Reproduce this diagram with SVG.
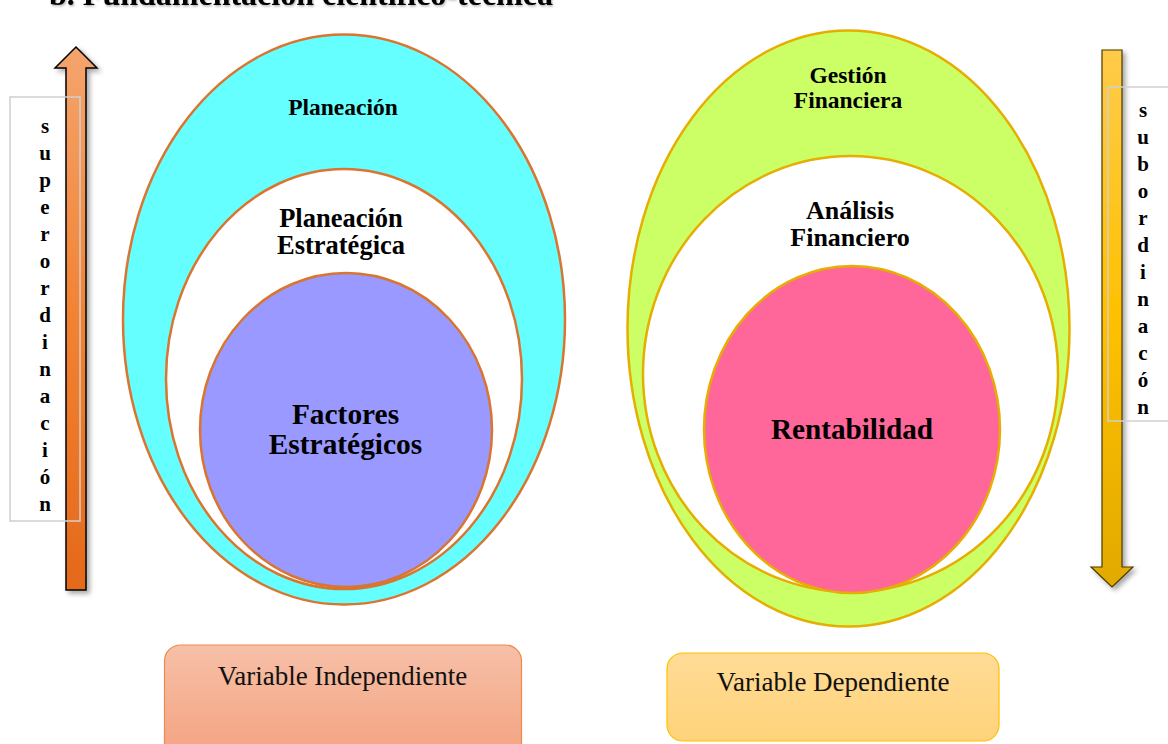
<svg xmlns="http://www.w3.org/2000/svg" width="1168" height="744" viewBox="0 0 1168 744">
  <style>
    .lbl { font-family: "Liberation Serif", "Times New Roman", serif; font-weight: bold; fill: #000; text-anchor: middle; }
    .var { font-family: "Liberation Serif", "Times New Roman", serif; font-size: 27px; fill: #111; text-anchor: middle; }
    .vert { font-family: "Liberation Serif", "Times New Roman", serif; font-weight: bold; font-size: 21px; fill: #000; text-anchor: middle; }
    .ring-l { stroke: #D9752F; stroke-width: 2.5; }
    .ring-r { stroke: #E6AE00; stroke-width: 2.5; }
    .tagbox { fill: none; stroke: #CFCFCF; stroke-width: 1.5; }
  </style>
  <defs>
    <linearGradient id="gUp" x1="0" y1="0" x2="0" y2="1">
      <stop offset="0" stop-color="#F5A46E"/>
      <stop offset="0.5" stop-color="#F28232"/>
      <stop offset="1" stop-color="#E4691A"/>
    </linearGradient>
    <linearGradient id="gDown" x1="0" y1="0" x2="0" y2="1">
      <stop offset="0" stop-color="#FFCB4A"/>
      <stop offset="0.5" stop-color="#FFC000"/>
      <stop offset="1" stop-color="#E2AA00"/>
    </linearGradient>
    <linearGradient id="gIndep" x1="0" y1="0" x2="0" y2="1">
      <stop offset="0" stop-color="#F6C0A8"/>
      <stop offset="1" stop-color="#F4A27F"/>
    </linearGradient>
    <linearGradient id="gDep" x1="0" y1="0" x2="0" y2="1">
      <stop offset="0" stop-color="#FFDB96"/>
      <stop offset="1" stop-color="#FFD37A"/>
    </linearGradient>
    <filter id="shadow" x="-50%" y="-10%" width="200%" height="120%">
      <feDropShadow dx="3" dy="3" stdDeviation="2.5" flood-color="#000" flood-opacity="0.35"/>
    </filter>
    <filter id="tshadow" x="-5%" y="-50%" width="110%" height="200%">
      <feDropShadow dx="1" dy="1.5" stdDeviation="1" flood-color="#000" flood-opacity="0.3"/>
    </filter>
  </defs>

  <rect width="1168" height="744" fill="#fff"/>

  <!-- heading, partly above the page edge -->
  <text class="lbl" x="301" y="5" font-size="32" filter="url(#tshadow)">b. Fundamentación científico-técnica</text>

  <!-- left nest: independent variable -->
  <g id="planeacion">
    <ellipse class="ring-l" cx="344" cy="319.5" rx="221" ry="285" fill="#66FFFF"/>
    <text class="lbl" x="343" y="115" font-size="23.5">Planeación</text>
  </g>
  <g id="planeacion-estrategica">
    <ellipse class="ring-l" cx="344" cy="379" rx="178" ry="210" fill="#FFFFFF"/>
    <text class="lbl" font-size="26.5"><tspan x="341" y="227">Planeación</tspan><tspan x="341" y="254">Estratégica</tspan></text>
  </g>
  <g id="factores-estrategicos">
    <ellipse class="ring-l" cx="346" cy="430" rx="146" ry="157" fill="#9999FF"/>
    <text class="lbl" font-size="29.4"><tspan x="345.5" y="424">Factores</tspan><tspan x="345.5" y="454">Estratégicos</tspan></text>
  </g>

  <!-- right nest: dependent variable -->
  <g id="gestion-financiera">
    <ellipse class="ring-r" cx="848.5" cy="328.5" rx="221" ry="298" fill="#CCFF66"/>
    <text class="lbl" font-size="23.5"><tspan x="848" y="83">Gestión</tspan><tspan x="848" y="108">Financiera</tspan></text>
  </g>
  <g id="analisis-financiero">
    <ellipse class="ring-r" cx="850.5" cy="374" rx="207.5" ry="218" fill="#FFFFFF"/>
    <text class="lbl" font-size="26"><tspan x="850" y="219">Análisis</tspan><tspan x="850" y="246">Financiero</tspan></text>
  </g>
  <g id="rentabilidad">
    <ellipse class="ring-r" cx="852" cy="429.5" rx="148" ry="163.5" fill="#FF6699"/>
    <text class="lbl" x="852" y="439" font-size="29.2">Rentabilidad</text>
  </g>

  <!-- direction arrows -->
  <g id="connectors">
    <path id="arrow-up" d="M66,590 L66,68 L55,68 L76,47 L97,68 L86,68 L86,590 Z" fill="url(#gUp)" stroke="#000" stroke-width="1.5" stroke-linejoin="miter" filter="url(#shadow)"/>
    <path id="arrow-down" d="M1102,50 L1122,50 L1122,567 L1133,567 L1112,587 L1091,567 L1102,567 Z" fill="url(#gDown)" stroke="#4A3A00" stroke-width="1.2" stroke-linejoin="miter" filter="url(#shadow)"/>
  </g>

  <g id="superordinacion">
    <rect class="tagbox" x="10" y="97" width="70" height="424"/>
    <text class="vert">
      <tspan x="45" y="133">s</tspan><tspan x="45" y="160">u</tspan><tspan x="45" y="187">p</tspan><tspan x="45" y="214">e</tspan><tspan x="45" y="241">r</tspan><tspan x="45" y="268">o</tspan><tspan x="45" y="295">r</tspan><tspan x="45" y="322">d</tspan><tspan x="45" y="349">i</tspan><tspan x="45" y="376">n</tspan><tspan x="45" y="403">a</tspan><tspan x="45" y="430">c</tspan><tspan x="45" y="457">i</tspan><tspan x="45" y="484">ó</tspan><tspan x="45" y="511">n</tspan>
    </text>
  </g>

  <g id="subordinacion">
    <rect class="tagbox" x="1108" y="87" width="70" height="334"/>
    <text class="vert">
      <tspan x="1143" y="117">s</tspan><tspan x="1143" y="144">u</tspan><tspan x="1143" y="171">b</tspan><tspan x="1143" y="198">o</tspan><tspan x="1143" y="225">r</tspan><tspan x="1143" y="252">d</tspan><tspan x="1143" y="279">i</tspan><tspan x="1143" y="306">n</tspan><tspan x="1143" y="333">a</tspan><tspan x="1143" y="360">c</tspan><tspan x="1143" y="387">ó</tspan><tspan x="1143" y="414">n</tspan>
    </text>
  </g>

  <!-- variable captions -->
  <g id="variable-independiente">
    <rect x="164.5" y="645" width="357" height="115" rx="16" fill="url(#gIndep)" stroke="#EE8A4A" stroke-width="1.2"/>
    <text class="var" x="342.5" y="685">Variable Independiente</text>
  </g>
  <g id="variable-dependiente">
    <rect x="667" y="653" width="332" height="88" rx="16" fill="url(#gDep)" stroke="#FFC000" stroke-width="1.2"/>
    <text class="var" x="833" y="691">Variable Dependiente</text>
  </g>
</svg>
